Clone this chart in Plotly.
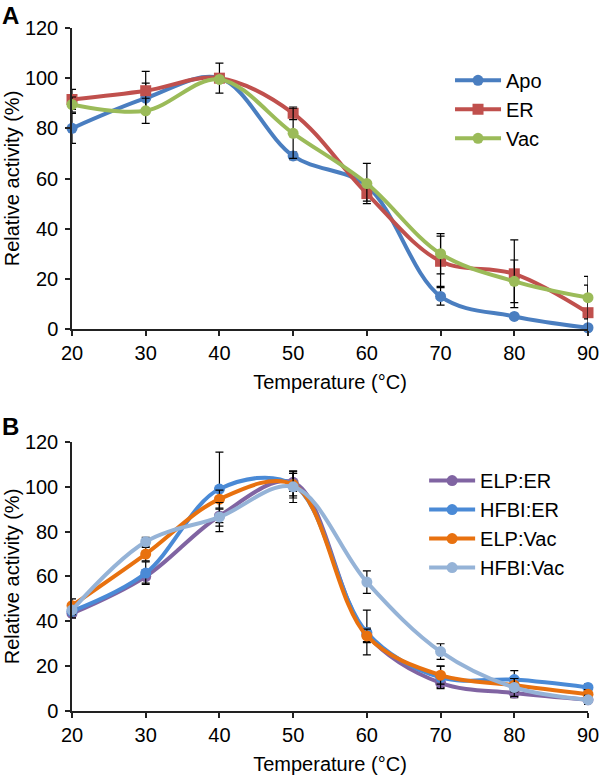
import plotly.graph_objects as go

temps = [20, 30, 40, 50, 60, 70, 80, 90]

# Panel A
apo = [80, 92, 100, 69, 57, 13, 5, 0.5]
apo_err = [6, 6, 1, 1.5, 2, 3.5, 0.5, 0.5]
er = [91.5, 95, 100, 86, 54, 27, 22, 6.5]
er_err = [4, 7.7, 6, 2.5, 3, 10, 13.5, 11]
vac = [89.5, 87, 99.5, 78, 58, 30, 19, 12.5]
vac_err = [3, 5, 1, 10, 8, 8, 8.5, 8.5]

# Panel B
elp_er = [43.5, 60, 87, 102, 34, 12.5, 8, 5]
elp_er_err = [2, 3, 3, 4, 3, 2, 2, 1]
hfbi_er = [44.5, 61.5, 99, 101, 35, 15, 14, 10.5]
hfbi_er_err = [3, 5, 16.5, 6, 10, 5, 4, 1.5]
elp_vac = [47, 70, 94.5, 101, 33.5, 16, 11.5, 7.5]
elp_vac_err = [3, 3, 4, 5, 3, 4, 3, 2]
hfbi_vac = [45, 75.5, 86.5, 100, 57.5, 26.5, 10.5, 5]
hfbi_vac_err = [2, 2, 6.5, 7, 5, 3.5, 4, 2]

FONT = "Liberation Sans, Arial, sans-serif"

fig = go.Figure()

def add(name, y, err, color, symbol, xa, ya, legend):
    fig.add_trace(go.Scatter(
        x=temps, y=y, name=name, mode="lines+markers",
        line=dict(color=color, width=4, shape="spline", smoothing=1),
        marker=dict(color=color, size=11, symbol=symbol),
        error_y=dict(type="data", array=err, visible=True, color="black",
                     thickness=1.2, width=4),
        xaxis=xa, yaxis=ya, legend=legend, cliponaxis=False,
    ))

add("Apo", apo, apo_err, "#4A7EC0", "circle", "x", "y", "legend")
add("ER", er, er_err, "#C0504D", "square", "x", "y", "legend")
add("Vac", vac, vac_err, "#9BBB59", "circle", "x", "y", "legend")

add("ELP:ER", elp_er, elp_er_err, "#8064A2", "circle", "x2", "y2", "legend2")
add("HFBI:ER", hfbi_er, hfbi_er_err, "#4A8AD6", "circle", "x2", "y2", "legend2")
add("ELP:Vac", elp_vac, elp_vac_err, "#E8710F", "circle", "x2", "y2", "legend2")
add("HFBI:Vac", hfbi_vac, hfbi_vac_err, "#95B3D7", "circle", "x2", "y2", "legend2")

axis_common = dict(
    showline=True, linecolor="#222", linewidth=1.5, ticks="outside",
    ticklen=5, tickwidth=1.5, tickcolor="#222", showgrid=False,
    zeroline=False, automargin=False,
    tickfont=dict(size=20, family=FONT, color="black"),
)

xa = dict(axis_common, range=[20, 90], dtick=10, tick0=20,
          title=dict(text="Temperature (°C)", font=dict(size=20, family=FONT, color="black"), standoff=12))
ya = dict(axis_common, range=[0, 120], dtick=20, ticklabelstandoff=3,
          title=dict(text="Relative activity (%)", font=dict(size=20, family=FONT, color="black"), standoff=0))

fig.update_layout(
    width=600, height=776,
    margin=dict(l=72, r=12, t=28, b=65, autoexpand=False),
    paper_bgcolor="white", plot_bgcolor="white",
    font=dict(family=FONT, size=20, color="black"),
    xaxis=dict(xa, domain=[0, 1], anchor="y"),
    yaxis=dict(ya, domain=[0.5593, 1], anchor="x"),
    xaxis2=dict(xa, domain=[0, 1], anchor="y2"),
    yaxis2=dict(ya, domain=[0, 0.3939], anchor="x2"),
    legend=dict(x=0.7326, y=0.952, xanchor="left", yanchor="top",
                font=dict(size=20, family=FONT), itemwidth=46,
                bgcolor="rgba(0,0,0,0)"),
    legend2=dict(x=0.6824, y=0.366, xanchor="left", yanchor="top",
                 font=dict(size=20, family=FONT), itemwidth=46,
                 bgcolor="rgba(0,0,0,0)"),
    showlegend=True,
    annotations=[
        dict(text="<b>A</b>", x=-0.1395, y=1.041, xref="paper", yref="paper",
             xanchor="left", yanchor="top", showarrow=False,
             font=dict(size=24, family=FONT, color="black")),
        dict(text="<b>B</b>", x=-0.1395, y=0.4392, xref="paper", yref="paper",
             xanchor="left", yanchor="top", showarrow=False,
             font=dict(size=24, family=FONT, color="black")),
    ],
)

fig.write_html("out.html", config={"displayModeBar": False},
               post_script="document.body.style.margin='0px';")
